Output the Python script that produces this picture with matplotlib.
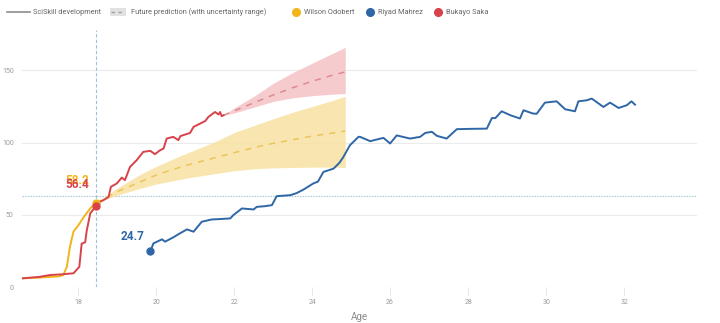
import matplotlib
matplotlib.use("Agg")
import matplotlib.pyplot as plt
from matplotlib.lines import Line2D
from matplotlib.patches import Rectangle

plt.rcParams['font.family'] = ['Roboto', 'DejaVu Sans']

# ---------------- data ----------------
odobert_age = [16.56, 17.0, 17.28, 17.5, 17.62, 17.71, 17.79, 17.88, 18.01, 18.09, 18.18, 18.31, 18.41, 18.46]
odobert_val = [6.0, 6.5, 7.0, 7.3, 8.3, 14.0, 27.9, 38.3, 42.9, 46.3, 49.8, 54.4, 57.2, 58.2]

saka_age = [16.56, 17.0, 17.28, 17.6, 17.88, 18.03, 18.09, 18.18, 18.22, 18.31, 18.44, 18.46,
            18.56, 18.65, 18.78, 18.84, 18.99, 19.12, 19.2, 19.33, 19.5, 19.67, 19.85, 19.97,
            20.1, 20.19, 20.27, 20.44, 20.57, 20.62, 20.87, 20.96, 21.13, 21.26, 21.34, 21.51,
            21.6, 21.64, 21.68, 21.73]
saka_val = [6.0, 7.0, 8.3, 8.8, 9.5, 14.0, 30.0, 31.0, 39.0, 51.0, 55.5, 56.4,
            59.0, 60.2, 62.4, 69.4, 71.7, 75.8, 74.0, 83.2, 87.8, 93.6, 94.3, 92.0,
            94.7, 95.9, 102.8, 104.0, 101.7, 104.5, 106.7, 110.9, 113.2, 115.0, 117.8, 121.2,
            119.5, 121.2, 118.3, 119.0]

mahrez_age = [19.85, 19.93, 20.15, 20.23, 20.44, 20.6, 20.79, 20.96, 21.17, 21.43, 21.6, 21.9,
              21.98, 22.2, 22.5, 22.58, 22.8, 22.97, 23.09, 23.44, 23.6, 23.78, 24.03, 24.15,
              24.29, 24.55, 24.7, 24.8, 24.97, 25.19, 25.23, 25.49, 25.83, 26.0, 26.17, 26.51,
              26.77, 26.9, 27.07, 27.2, 27.45, 27.71, 28.0, 28.48, 28.61, 28.7, 28.86, 29.08,
              29.33, 29.42, 29.67, 29.76, 29.97, 30.27, 30.49, 30.74, 30.83, 31.04, 31.17, 31.3,
              31.47, 31.64, 31.86, 32.07, 32.19, 32.28]
mahrez_val = [24.7, 30.2, 33.0, 31.4, 34.4, 37.0, 39.9, 38.3, 45.2, 46.8, 47.0, 47.5,
              49.8, 54.4, 53.7, 55.5, 56.0, 56.7, 62.9, 63.6, 65.0, 67.5, 71.7, 73.0,
              79.7, 82.0, 86.0, 90.0, 98.2, 104.0, 104.0, 101.0, 103.3, 99.4, 105.0, 102.8,
              104.0, 106.7, 107.5, 104.7, 102.8, 109.3, 109.5, 109.7, 117.0, 117.0, 121.7, 119.0,
              116.7, 122.4, 120.1, 120.0, 127.7, 128.6, 123.1, 121.7, 128.6, 129.3, 130.5, 128.0,
              124.7, 127.7, 124.0, 125.9, 128.6, 126.3]

# predictions (age, central, lower, upper)
odo_pred_age = [18.46, 19.0, 19.59, 20.0, 20.5, 20.87, 21.5, 22.0, 22.58, 23.0, 23.5, 24.0, 24.5, 24.85]
odo_pred_mid = [58.2, 66.0, 72.8, 77.5, 82.0, 85.0, 89.5, 93.0, 97.0, 99.5, 102.0, 104.5, 106.5, 108.0]
odo_pred_low = [58.2, 63.5, 68.3, 71.3, 74.0, 75.8, 78.5, 80.5, 82.0, 82.5, 82.8, 83.0, 83.0, 82.8]
odo_pred_up = [58.2, 68.5, 78.0, 83.5, 89.5, 93.6, 100.5, 107.0, 112.5, 116.5, 121.0, 125.0, 129.0, 132.0]

saka_pred_age = [21.73, 22.0, 22.5, 23.0, 23.5, 24.0, 24.5, 24.85]
saka_pred_mid = [119.0, 122.0, 127.5, 133.0, 138.0, 142.5, 146.5, 149.0]
saka_pred_low = [119.0, 120.5, 124.5, 128.5, 131.0, 132.5, 133.5, 134.0]
saka_pred_up = [119.0, 124.0, 132.0, 141.0, 148.5, 155.0, 161.5, 166.0]

current_age = 18.46
ref_level = 63.0

x_ticks = [18, 20, 22, 24, 26, 28, 30, 32]
y_ticks = [0, 50, 100, 150]

legend_labels = ["SciSkill development", "Future prediction (with uncertainty range)",
                 "Wilson Odobert", "Riyad Mahrez", "Bukayo Saka"]

# ---------------- style ----------------
YEL = '#F2B41B'
YEL_BAND = '#F8E3A6'
YEL_DASH = '#EDC45A'
RED = '#D8424A'
RED_BAND = '#F6C6C9'
RED_DASH = '#DE8A8F'
BLUE = '#2F67A6'
REF = '#9CC3D3'

W, H = 720, 323
fig = plt.figure(figsize=(7.2, 3.23), dpi=100)
ax = fig.add_axes([22 / W, 1 - 287 / H, (697 - 22) / W, (287 - 30) / H])

ax.set_xlim(16.56, 33.87)
ax.set_ylim(0, 178)

for s in ax.spines.values():
    s.set_visible(False)
ax.set_yticks(y_ticks)
ax.set_xticks(x_ticks)
ax.yaxis.grid(True, color='#ebebeb', lw=0.8)
ax.set_axisbelow(True)
ax.tick_params(axis='y', length=0, labelsize=5, labelcolor='#9a9a9a', pad=6)
ax.tick_params(axis='x', length=6, width=0.6, color='#e3e3e3', labelsize=5,
               labelcolor='#9a9a9a', pad=3)
ax.set_xlabel('Age', fontsize=7, color='#8a8a8a', labelpad=4)

# reference lines
ax.axvline(current_age, color=REF, lw=0.8, ls=(0, (3, 2)), zorder=1)
ax.axhline(ref_level, color=REF, lw=0.8, ls=(0, (1.2, 1.2)), zorder=1)

# bands
ax.fill_between(odo_pred_age, odo_pred_low, odo_pred_up, color=YEL_BAND, lw=0, alpha=0.9, zorder=2)
ax.fill_between(saka_pred_age, saka_pred_low, saka_pred_up, color=RED_BAND, lw=0, alpha=0.9, zorder=2)
ax.plot(odo_pred_age, odo_pred_mid, color=YEL_DASH, lw=1.1, ls=(0, (4, 4)), zorder=3)
ax.plot(saka_pred_age, saka_pred_mid, color=RED_DASH, lw=1.1, ls=(0, (4, 4)), zorder=3)

# history lines
ax.plot(odobert_age, odobert_val, color=YEL, lw=1.4, zorder=4)
ax.plot(saka_age, saka_val, color=RED, lw=1.4, zorder=5)
ax.plot(mahrez_age, mahrez_val, color=BLUE, lw=1.4, zorder=4)

# end / start dots
ax.plot([odobert_age[-1]], [odobert_val[-1]], 'o', color=YEL, ms=5, zorder=6)
ax.plot([saka_age[11]], [saka_val[11]], 'o', color=RED, ms=5, zorder=7)
ax.plot([mahrez_age[0]], [mahrez_val[0]], 'o', color=BLUE, ms=5, zorder=6)

# value labels
ax.annotate(f"{odobert_val[-1]:.1f}", (odobert_age[-1], odobert_val[-1]), xytext=(-5, 16),
            textcoords='offset points', ha='right', va='center', fontsize=8.5,
            fontweight='bold', color=YEL, zorder=8)
ax.annotate(f"{saka_val[11]:.1f}", (saka_age[11], saka_val[11]), xytext=(-5, 15),
            textcoords='offset points', ha='right', va='center', fontsize=8.5,
            fontweight='bold', color=RED, zorder=9)
ax.annotate(f"{mahrez_val[0]:.1f}", (mahrez_age[0], mahrez_val[0]), xytext=(-4, 11),
            textcoords='offset points', ha='right', va='center', fontsize=8.5,
            fontweight='bold', color=BLUE, zorder=8)

# ---------------- legend (manual) ----------------
ly = 1 - 12 / H
def fx(px):
    return px / W

fig.add_artist(Line2D([fx(7), fx(30)], [ly, ly], color='#8c8c8c', lw=1.2, transform=fig.transFigure))
fig.text(fx(33), ly, legend_labels[0], fontsize=5.3, color='#666666', va='center', ha='left')
fig.add_artist(Rectangle((fx(110), ly - 3.5 / H), fx(16), 7 / H, facecolor='#e2e2e2',
                         edgecolor='none', transform=fig.transFigure))
fig.add_artist(Line2D([fx(111), fx(125)], [ly, ly], color='#a0a0a0', lw=1.0, ls=(0, (2.5, 2.5)),
                      transform=fig.transFigure))
fig.text(fx(131), ly, legend_labels[1], fontsize=5.3, color='#666666', va='center', ha='left')
for cx, col, lab in [(296, YEL, legend_labels[2]), (370, BLUE, legend_labels[3]), (438, RED, legend_labels[4])]:
    fig.add_artist(Line2D([fx(cx)], [ly], marker='o', ms=5.5, color=col, lw=0, transform=fig.transFigure))
    fig.text(fx(cx + 8), ly, lab, fontsize=5.3, color='#666666', va='center', ha='left')

fig.savefig('out.png', dpi=100)
